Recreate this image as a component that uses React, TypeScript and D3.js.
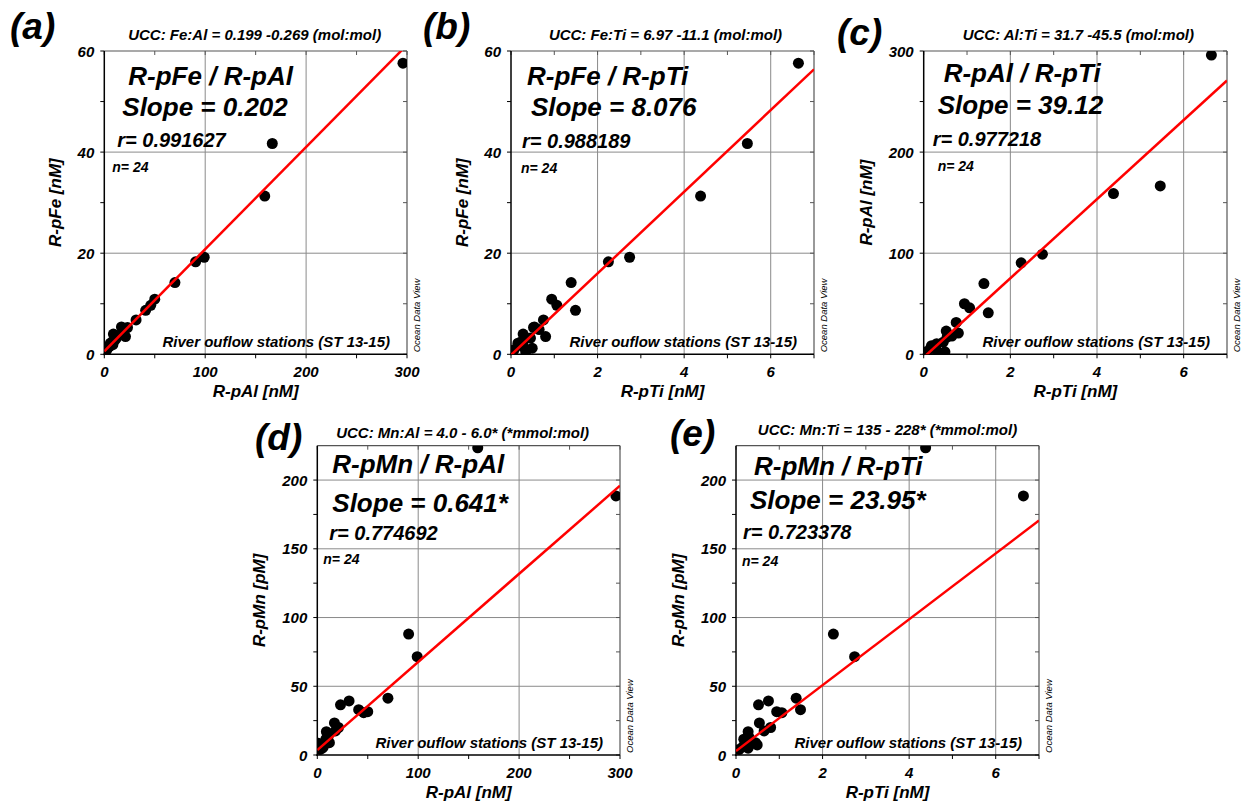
import React from 'react';
import * as d3 from 'd3';

// 24 river outflow samples (ST 13-15)
const sampleAl = [296, 166.5, 159, 99, 90.5, 70, 50, 46, 41, 31.5, 23, 17, 18, 21, 10.5, 9, 8.5, 8, 6, 5, 2.5, 1, 2.5, 12];
const sampleFe = [57.6, 41.7, 31.3, 19.2, 18.3, 14.2, 10.9, 9.7, 8.7, 6.8, 5.3, 5.4, 4.9, 3.5, 2.8, 4.0, 1.9, 2.5, 2.2, 1.5, 1.2, 0.5, 0.9, 3.2];
const sampleTi = [6.64, 5.46, 4.38, 2.74, 2.25, 1.39, 0.94, 1.06, 1.49, 0.75, 0.52, 0.54, 0.65, 0.8, 0.3, 0.28, 0.18, 0.24, 0.16, 0.28, 0.49, 0.34, 0.07, 0.45];
const sampleMn = [188.5, 262, 223.5, 71.5, 88, 41.3, 31.5, 30.8, 33, 39.3, 36.5, 23.3, 17.5, 20, 13, 17, 11.5, 8.5, 6, 5, 7.3, 8.5, 4, 9];

const panelLetters = ['(a)', '(b)', '(c)', '(d)', '(e)'];
const uccLabels = [
  'UCC: Fe:Al = 0.199 -0.269 (mol:mol)',
  'UCC: Fe:Ti = 6.97 -11.1 (mol:mol)',
  'UCC: Al:Ti = 31.7 -45.5 (mol:mol)',
  'UCC: Mn:Al = 4.0 - 6.0* (*mmol:mol)',
  'UCC: Mn:Ti = 135 - 228* (*mmol:mol)',
];
const ratioTitles = ['R-pFe / R-pAl', 'R-pFe / R-pTi', 'R-pAl / R-pTi', 'R-pMn / R-pAl', 'R-pMn / R-pTi'];
const slopeLabels = ['Slope = 0.202', 'Slope = 8.076', 'Slope = 39.12', 'Slope = 0.641*', 'Slope = 23.95*'];
const rLabels = ['r= 0.991627', 'r= 0.988189', 'r= 0.977218', 'r= 0.774692', 'r= 0.723378'];
const nLabel = 'n= 24';
const xLabels = ['R-pAl [nM]', 'R-pTi [nM]', 'R-pTi [nM]', 'R-pAl [nM]', 'R-pTi [nM]'];
const yLabels = ['R-pFe [nM]', 'R-pFe [nM]', 'R-pAl [nM]', 'R-pMn [pM]', 'R-pMn [pM]'];
const fitSlopes = [0.202, 8.076, 39.12, 0.641, 23.95];
const fitIntercepts = [0.6, -0.15, -3, 3.6, 2.9];

const alTicks = [0, 100, 200, 300];
const alMinor = [50, 150, 250];
const tiTicks = [0, 2, 4, 6];
const tiMinor = [1, 3, 5, 7];
const feTicks = [0, 20, 40, 60];
const feMinor = [10, 30, 50];
const alYTicks = [0, 100, 200, 300];
const alYMinor = [50, 150, 250];
const mnTicks = [0, 50, 100, 150, 200];
const mnMinor = [25, 75, 125, 175];

const stationNote = 'River ouflow stations (ST 13-15)';
const odvNote = 'Ocean Data View';

const FONT = '"Liberation Sans", Arial, sans-serif';

type Panel = {
  xs: number[]; ys: number[];
  xDom: [number, number]; yDom: [number, number];
  xT: number[]; xM: number[]; yT: number[]; yM: number[];
  box: [number, number, number, number];
  letter: [number, number];
  ucc: [number, number];
  title: [number, number]; slope: [number, number]; r: [number, number]; n: [number, number];
  yLabOff: number;
};

const panels: Panel[] = [
  { xs: sampleAl, ys: sampleFe, xDom: [0, 300], yDom: [0, 60], xT: alTicks, xM: alMinor, yT: feTicks, yM: feMinor,
    box: [104.3, 407, 51, 354.3], letter: [10, 39], ucc: [-1, 40], title: [24, 34], slope: [18, 65], r: [13, 96], n: [8, 121], yLabOff: 43 },
  { xs: sampleTi, ys: sampleFe, xDom: [0, 7], yDom: [0, 60], xT: tiTicks, xM: tiMinor, yT: feTicks, yM: feMinor,
    box: [511, 814, 51, 354.3], letter: [423, 39], ucc: [3, 40], title: [16, 34], slope: [20, 65], r: [11, 97], n: [10, 122], yLabOff: 43 },
  { xs: sampleTi, ys: sampleAl, xDom: [0, 7], yDom: [0, 300], xT: tiTicks, xM: tiMinor, yT: alYTicks, yM: alYMinor,
    box: [923.7, 1227, 51, 354.3], letter: [837, 45], ucc: [3, 40], title: [20, 31], slope: [14, 63], r: [9, 95], n: [14, 120], yLabOff: 52 },
  { xs: sampleAl, ys: sampleMn, xDom: [0, 300], yDom: [0, 225], xT: alTicks, xM: alMinor, yT: mnTicks, yM: mnMinor,
    box: [317.3, 620, 445.7, 755], letter: [255, 450], ucc: [-6, 438], title: [15, 27], slope: [15, 66], r: [12, 94], n: [6, 118], yLabOff: 52 },
  { xs: sampleTi, ys: sampleMn, xDom: [0, 7], yDom: [0, 225], xT: tiTicks, xM: tiMinor, yT: mnTicks, yM: mnMinor,
    box: [736, 1039, 445.7, 755], letter: [670, 446], ucc: [0, 435], title: [18, 29], slope: [14, 63], r: [7, 93], n: [6, 120], yLabOff: 52 },
];

function PanelView({ p, i }: { p: Panel; i: number }) {
  const [x0, x1, y0, y1] = p.box;
  const x = d3.scaleLinear().domain(p.xDom).range([x0, x1]);
  const y = d3.scaleLinear().domain(p.yDom).range([y1, y0]);
  const cx = (x0 + x1) / 2;
  const cy = (y0 + y1) / 2;
  const clipId = `clip-${i}`;
  const line = d3.line<number>().x((v) => x(v)).y((v) => y(fitIntercepts[i] + fitSlopes[i] * v));
  const xLine = [p.xDom[0], p.xDom[1]];
  const tk = 4;
  return (
    <g>
      <defs>
        <clipPath id={clipId}>
          <rect x={x0} y={y0} width={x1 - x0} height={y1 - y0} />
        </clipPath>
      </defs>
      {p.xT.filter((v) => v > p.xDom[0] && v < p.xDom[1]).map((v) => (
        <line key={'gx' + v} x1={x(v)} x2={x(v)} y1={y0} y2={y1} stroke="#8a8a8a" strokeWidth={1} />
      ))}
      {p.yT.filter((v) => v > p.yDom[0] && v < p.yDom[1]).map((v) => (
        <line key={'gy' + v} x1={x0} x2={x1} y1={y(v)} y2={y(v)} stroke="#8a8a8a" strokeWidth={1} />
      ))}
      <line x1={x0} x2={x1} y1={y0} y2={y0} stroke="#555" strokeWidth={1.2} />
      <line x1={x1} x2={x1} y1={y0} y2={y1} stroke="#555" strokeWidth={1.2} />
      {[...p.xT, ...p.xM].map((v) => (
        <g key={'tx' + v}>
          <line x1={x(v)} x2={x(v)} y1={y1} y2={y1 + tk} stroke="#000" strokeWidth={1} />
          <line x1={x(v)} x2={x(v)} y1={y0} y2={y0 + tk} stroke="#555" strokeWidth={1} />
        </g>
      ))}
      {[...p.yT, ...p.yM].map((v) => (
        <g key={'ty' + v}>
          <line x1={x0 - tk} x2={x0} y1={y(v)} y2={y(v)} stroke="#000" strokeWidth={1} />
          <line x1={x1 - tk} x2={x1} y1={y(v)} y2={y(v)} stroke="#555" strokeWidth={1} />
        </g>
      ))}
      <line x1={x0} x2={x0} y1={y0} y2={y1 + 1} stroke="#000" strokeWidth={1.5} />
      <line x1={x0 - 1} x2={x1} y1={y1} y2={y1} stroke="#000" strokeWidth={1.5} />
      {p.xT.map((v) => (
        <text key={'lx' + v} x={x(v)} y={y1 + 23} textAnchor="middle" fontSize={15} fontWeight="bold" fontStyle="italic">{v}</text>
      ))}
      {p.yT.map((v) => (
        <text key={'ly' + v} x={x0 - 10} y={y(v) + 5.5} textAnchor="end" fontSize={15} fontWeight="bold" fontStyle="italic">{v}</text>
      ))}
      <text x={cx} y={y1 + 43} textAnchor="middle" fontSize={17} fontWeight="bold" fontStyle="italic">{xLabels[i]}</text>
      <text transform={`translate(${x0 - p.yLabOff},${cy}) rotate(-90)`} textAnchor="middle" fontSize={17} fontWeight="bold" fontStyle="italic">{yLabels[i]}</text>
      <text transform={`translate(${x1 + 13},${y1 - 2}) rotate(-90)`} fontSize={9.5} fontStyle="italic" fill="#000">{odvNote}</text>
      <text x={cx + p.ucc[0]} y={p.ucc[1]} textAnchor="middle" fontSize={15} fontWeight="bold" fontStyle="italic">{uccLabels[i]}</text>
      <text x={p.letter[0]} y={p.letter[1]} fontSize={37} fontWeight="bold" fontStyle="italic">{panelLetters[i]}</text>
      <text x={x0 + p.title[0]} y={y0 + p.title[1]} fontSize={26} fontWeight="bold" fontStyle="italic">{ratioTitles[i]}</text>
      <text x={x0 + p.slope[0]} y={y0 + p.slope[1]} fontSize={26} fontWeight="bold" fontStyle="italic">{slopeLabels[i]}</text>
      <text x={x0 + p.r[0]} y={y0 + p.r[1]} fontSize={20} fontWeight="bold" fontStyle="italic">{rLabels[i]}</text>
      <text x={x0 + p.n[0]} y={y0 + p.n[1]} fontSize={14} fontWeight="bold" fontStyle="italic">{nLabel}</text>
      <text x={x1 - 17} y={y1 - 7} textAnchor="end" fontSize={15} fontWeight="bold" fontStyle="italic">{stationNote}</text>
      <g clipPath={`url(#${clipId})`}>
        {p.xs.map((xv, k) => (
          <circle key={k} cx={x(xv)} cy={y(p.ys[k])} r={5.5} fill="#000" />
        ))}
        <path d={line(xLine) || ''} stroke="#ff0000" strokeWidth={2.5} fill="none" />
      </g>
    </g>
  );
}

export default function App() {
  return (
    <svg width={1242} height={805} style={{ position: 'absolute', left: 0, top: 0, background: '#fff' }} fontFamily={FONT}>
      <rect x={0} y={0} width={1242} height={805} fill="#fff" />
      {panels.map((p, i) => (
        <PanelView key={i} p={p} i={i} />
      ))}
    </svg>
  );
}
